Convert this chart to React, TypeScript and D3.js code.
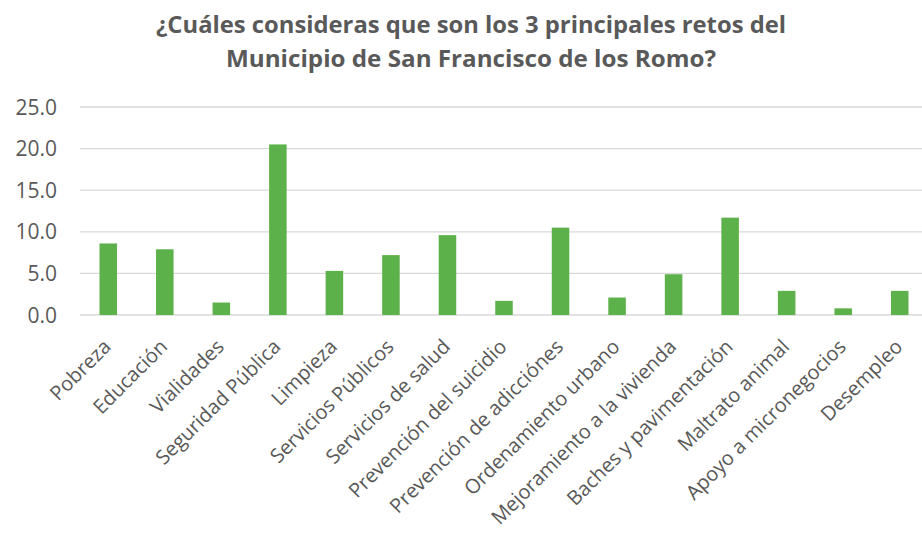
import React from "react";
import * as d3 from "d3";

const categories = [
  "Pobreza",
  "Educación",
  "Vialidades",
  "Seguridad Pública",
  "Limpieza",
  "Servicios Públicos",
  "Servicios de salud",
  "Prevención del suicidio",
  "Prevención de adicciónes",
  "Ordenamiento urbano",
  "Mejoramiento a la vivienda",
  "Baches y pavimentación",
  "Maltrato animal",
  "Apoyo a micronegocios",
  "Desempleo",
];
const values = [8.6, 7.9, 1.5, 20.5, 5.3, 7.2, 9.6, 1.7, 10.5, 2.1, 4.9, 11.7, 2.9, 0.8, 2.9];
const yTicks = [0, 5, 10, 15, 20, 25];
const titleLines = [
  "¿Cuáles consideras que son los 3 principales retos del",
  "Municipio de San Francisco de los Romo?",
];
const titleWidths = [630, 490];

const W = 922;
const H = 546;
const FONT = "'Open Sans', Lato, sans-serif";
const TXT = "#595959";

export default function App() {
  const x = d3.scaleBand<string>().domain(categories).range([80, 928]).paddingInner(0.69).paddingOuter(0.345);
  const y = d3.scaleLinear().domain([0, 25]).range([315, 107]);
  return (
    <svg width={W} height={H} style={{ position: "absolute", left: 0, top: 0, background: "#fff" }}>
      <g fontFamily={FONT} fill={TXT}>
        {titleLines.map((t, i) => (
          <text
            key={i}
            x={471}
            y={33 + i * 34}
            textAnchor="middle"
            fontSize={24}
            fontWeight="bold"
            textLength={titleWidths[i]}
            lengthAdjust="spacingAndGlyphs"
          >
            {t}
          </text>
        ))}
      </g>
      <g>
        {yTicks.map((t) => (
          <line key={t} x1={80} x2={W} y1={y(t)} y2={y(t)} stroke="#d9d9d9" strokeWidth={1.3} />
        ))}
      </g>
      <g>
        {categories.map((c, i) => (
          <rect key={c} x={x(c)} y={y(values[i])} width={x.bandwidth()} height={y(0) - y(values[i])} fill="#5db14a" />
        ))}
      </g>
      <g fontFamily={FONT} fill={TXT}>
        {yTicks.map((t) => (
          <text key={t} x={57} y={y(t)} dy="0.36em" textAnchor="end" fontSize={21}>
            {d3.format(".1f")(t)}
          </text>
        ))}
        {categories.map((c) => {
          const cx = (x(c) as number) + x.bandwidth() / 2 - 1;
          const cy = 343;
          return (
            <text key={c} transform={`translate(${cx},${cy}) rotate(-45)`} textAnchor="end" dy="0.35em" fontSize={20}>
              {c}
            </text>
          );
        })}
      </g>
    </svg>
  );
}
